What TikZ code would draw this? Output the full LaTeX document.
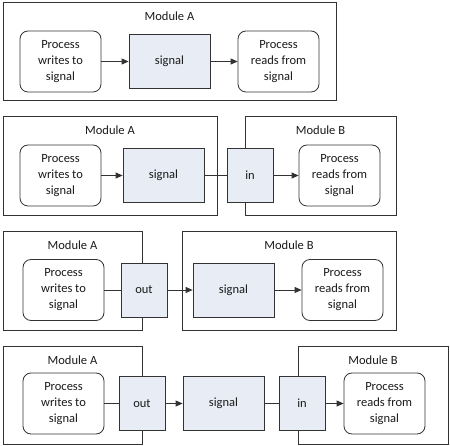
\documentclass[tikz,border=0pt]{standalone}
\usepackage{fontspec}
\setmainfont{Carlito}
\usetikzlibrary{arrows.meta}
\definecolor{sigfill}{HTML}{E8ECF4}
\definecolor{linec}{HTML}{333333}
\definecolor{txtc}{HTML}{1A1A1A}
\tikzset{
  module/.style={draw=linec, line width=0.8pt, rectangle, inner sep=0pt},
  proc/.style={draw=linec, line width=0.8pt, rectangle, rounded corners=8pt, fill=white,
    minimum width=81pt, minimum height=61pt, inner sep=0pt, align=center,
    text=txtc, font=\fontsize{12.5}{16}\selectfont},
  sig/.style={draw=linec, line width=0.8pt, rectangle, fill=sigfill,
    minimum width=81pt, minimum height=54pt, inner sep=0pt,
    text=txtc, font=\fontsize{12.5}{16}\selectfont},
  port/.style={draw=linec, line width=0.8pt, rectangle, fill=sigfill,
    minimum width=46pt, minimum height=54pt, inner sep=0pt,
    text=txtc, font=\fontsize{12.5}{16}\selectfont},
  title/.style={anchor=base, text=txtc, font=\fontsize{12.5}{16}\selectfont, inner sep=0pt},
  conn/.style={draw=linec, line width=0.8pt},
  arr/.style={conn, -{Triangle[length=7pt,width=6pt]}}
}
\begin{document}
\begin{tikzpicture}[x=1pt,y=-1pt]
\useasboundingbox (0,0) rectangle (450,446);
% ---------- Row 1 ----------
\node[module, minimum width=333pt, minimum height=98pt] (mA1) at (169.5,51) {};
\node[title] (tA1) at ([yshift=-18.5pt]mA1.north) {Module A};
\node[proc] (w1) at (60.5,61.5) {Process\\writes to\\signal};
\node[sig] (s1) at (169.5,61.5) {signal};
\node[proc] (r1) at (278.5,61.5) {Process\\reads from\\signal};
\draw[arr] (w1) -- (s1);
\draw[arr] (s1) -- (r1);
% ---------- Row 2 ----------
\node[module, minimum width=214pt, minimum height=99pt] (mA2) at (110,165.5) {};
\node[module, minimum width=151pt, minimum height=99pt] (mB2) at (320.5,165.5) {};
\node[title] (tA2) at ([yshift=-18.5pt]mA2.north) {Module A};
\node[title] (tB2) at ([yshift=-18.5pt]mB2.north) {Module B};
\node[proc] (w2) at (60.5,175.5) {Process\\writes to\\signal};
\node[sig] (s2) at (163.5,175.5) {signal};
\node[port] (i2) at (250,175.5) {in};
\node[proc] (r2) at (339.5,175.5) {Process\\reads from\\signal};
\draw[arr] (w2) -- (s2);
\draw[conn] (s2) -- (i2);
\draw[arr] (i2) -- (r2);
% ---------- Row 3 ----------
\node[module, minimum width=139pt, minimum height=99pt] (mA3) at (72.5,280.5) {};
\node[module, minimum width=214pt, minimum height=99pt] (mB3) at (289,280.5) {};
\node[title] (tA3) at ([yshift=-18.5pt]mA3.north) {Module A};
\node[title] (tB3) at ([yshift=-18.5pt]mB3.north) {Module B};
\node[proc] (w3) at (63.5,290) {Process\\writes to\\signal};
\node[port] (o3) at (144,290) {out};
\node[sig] (s3) at (233.5,290) {signal};
\node[proc] (r3) at (342.5,290) {Process\\reads from\\signal};
\draw[conn] (w3) -- (o3);
\draw[arr] (o3) -- (s3);
\draw[arr] (s3) -- (r3);
% ---------- Row 4 ----------
\node[module, minimum width=139pt, minimum height=98pt] (mA4) at (72.5,395) {};
\node[module, minimum width=150pt, minimum height=98pt] (mB4) at (373,395) {};
\node[title] (tA4) at ([yshift=-18.5pt]mA4.north) {Module A};
\node[title] (tB4) at ([yshift=-18.5pt]mB4.north) {Module B};
\node[proc] (w4) at (63.5,403.5) {Process\\writes to\\signal};
\node[port] (o4) at (142,403.5) {out};
\node[sig] (s4) at (223.5,403.5) {signal};
\node[port] (i4) at (302,403.5) {in};
\node[proc] (r4) at (384.5,403.5) {Process\\reads from\\signal};
\draw[conn] (w4) -- (o4);
\draw[arr] (o4) -- (s4);
\draw[conn] (s4) -- (i4);
\draw[arr] (i4) -- (r4);
\end{tikzpicture}
\end{document}
